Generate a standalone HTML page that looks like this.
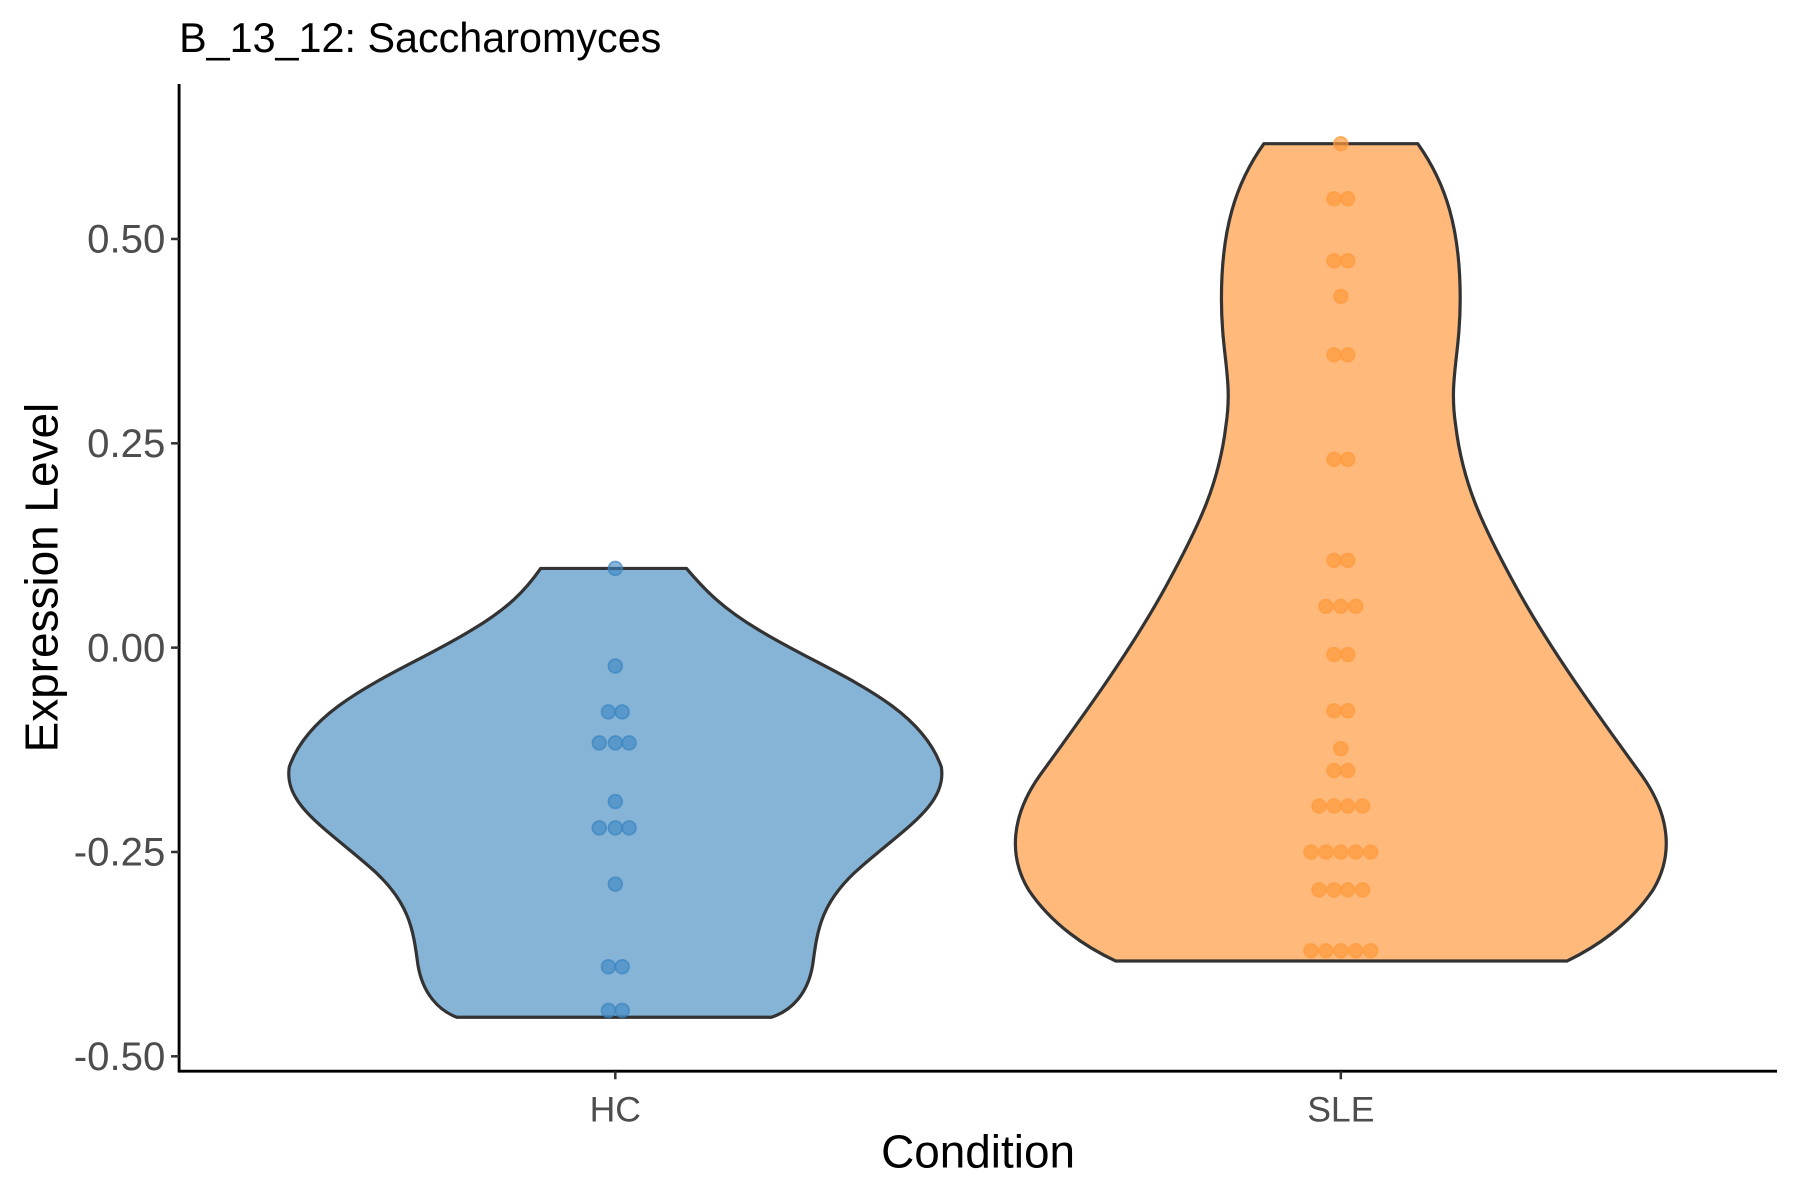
<!DOCTYPE html>
<html><head><style>body{margin:0;background:#fff}svg{display:block}</style></head><body>
<svg width="1800" height="1200" viewBox="0 0 1568 1045" xmlns="http://www.w3.org/2000/svg" font-family="Liberation Sans, Arial, sans-serif">
<rect width="1568" height="1045" fill="#fff"/>
<text x="156" y="45" font-size="36" fill="#000">B_13_12: Saccharomyces</text>
<path d="M471,495 L598,495 C615,515 630,530 660,548 C720,585 800,610 820,668 C825,700 790,720 750,755 C715,785 712,810 708,840 C704,865 690,880 672,886 L398,886 C382,880 368,865 364,840 C360,810 357,785 322,755 C282,720 247,700 252,668 C272,610 352,585 412,548 C442,530 457,515 471,495 Z" fill="#86b4d7" stroke="#333" stroke-width="2.8"/>
<path d="M1101,125 L1235,125 C1260,160 1272,200 1272,260 C1272,310 1262,330 1268,370 C1274,420 1290,455 1320,510 C1350,565 1390,620 1430,675 C1455,710 1458,745 1440,775 C1420,805 1390,825 1365,837 L972,837 C946,825 916,805 896,775 C878,745 881,710 906,675 C946,620 986,565 1016,510 C1046,455 1062,420 1068,370 C1074,330 1064,310 1064,260 C1064,200 1076,160 1101,125 Z" fill="#ffb97b" stroke="#333" stroke-width="2.8"/>
<g fill="#3a85c2" fill-opacity="0.6" stroke="#3a85c2" stroke-opacity="0.7" stroke-width="1.5">
<circle cx="536" cy="495" r="6"/><circle cx="536" cy="580" r="6"/>
<circle cx="530" cy="620" r="6"/><circle cx="542" cy="620" r="6"/>
<circle cx="522" cy="647" r="6"/><circle cx="536" cy="647" r="6"/><circle cx="548" cy="647" r="6"/>
<circle cx="536" cy="698" r="6"/>
<circle cx="522" cy="721" r="6"/><circle cx="536" cy="721" r="6"/><circle cx="548" cy="721" r="6"/>
<circle cx="536" cy="770" r="6"/>
<circle cx="530" cy="842" r="6"/><circle cx="542" cy="842" r="6"/>
<circle cx="530" cy="880" r="6"/><circle cx="542" cy="880" r="6"/>
</g>
<g fill="#ff9a3c" fill-opacity="0.7" stroke="#ff9a3c" stroke-opacity="0.7" stroke-width="1.5">
<circle cx="1168" cy="125" r="6"/>
<circle cx="1162" cy="173" r="6"/><circle cx="1174" cy="173" r="6"/>
<circle cx="1162" cy="227" r="6"/><circle cx="1174" cy="227" r="6"/>
<circle cx="1168" cy="258" r="6"/>
<circle cx="1162" cy="309" r="6"/><circle cx="1174" cy="309" r="6"/>
<circle cx="1162" cy="400" r="6"/><circle cx="1174" cy="400" r="6"/>
<circle cx="1162" cy="488" r="6"/><circle cx="1174" cy="488" r="6"/>
<circle cx="1155" cy="528" r="6"/><circle cx="1168" cy="528" r="6"/><circle cx="1181" cy="528" r="6"/>
<circle cx="1162" cy="570" r="6"/><circle cx="1174" cy="570" r="6"/>
<circle cx="1162" cy="619" r="6"/><circle cx="1174" cy="619" r="6"/>
<circle cx="1168" cy="652" r="6"/>
<circle cx="1162" cy="671" r="6"/><circle cx="1174" cy="671" r="6"/>
<circle cx="1149" cy="702" r="6"/><circle cx="1162" cy="702" r="6"/><circle cx="1174" cy="702" r="6"/><circle cx="1187" cy="702" r="6"/>
<circle cx="1142" cy="742" r="6"/><circle cx="1155" cy="742" r="6"/><circle cx="1168" cy="742" r="6"/><circle cx="1181" cy="742" r="6"/><circle cx="1194" cy="742" r="6"/>
<circle cx="1149" cy="775" r="6"/><circle cx="1162" cy="775" r="6"/><circle cx="1174" cy="775" r="6"/><circle cx="1187" cy="775" r="6"/>
<circle cx="1142" cy="828" r="6"/><circle cx="1155" cy="828" r="6"/><circle cx="1168" cy="828" r="6"/><circle cx="1181" cy="828" r="6"/><circle cx="1194" cy="828" r="6"/>
</g>
<g stroke="#000" stroke-width="2.5">
<line x1="156" y1="73" x2="156" y2="934"/>
<line x1="155" y1="933" x2="1548" y2="933"/>
</g>
<g stroke="#333" stroke-width="2.2">
<line x1="149" y1="208" x2="156" y2="208"/><line x1="149" y1="386" x2="156" y2="386"/>
<line x1="149" y1="564" x2="156" y2="564"/><line x1="149" y1="742" x2="156" y2="742"/>
<line x1="149" y1="920" x2="156" y2="920"/>
<line x1="536" y1="933" x2="536" y2="940"/><line x1="1168" y1="933" x2="1168" y2="940"/>
</g>
<g font-size="35" fill="#4d4d4d" text-anchor="end">
<text x="144" y="220">0.50</text><text x="144" y="398">0.25</text>
<text x="144" y="576">0.00</text><text x="144" y="754">-0.25</text>
<text x="144" y="932">-0.50</text>
</g>
<g font-size="31" fill="#4d4d4d" text-anchor="middle">
<text x="536" y="977">HC</text><text x="1168" y="977">SLE</text>
</g>
<text x="852" y="1017" font-size="40" text-anchor="middle" fill="#000">Condition</text>
<text transform="translate(50,503) rotate(-90)" font-size="40" text-anchor="middle" fill="#000">Expression Level</text>
</svg>
</body></html>
